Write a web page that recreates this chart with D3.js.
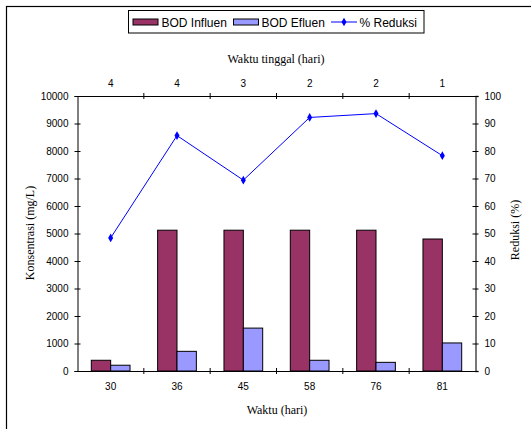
<!DOCTYPE html>
<html>
<head>
<meta charset="utf-8">
<script src="https://cdn.jsdelivr.net/npm/d3@7"></script>
<style>
  html, body { margin: 0; padding: 0; background: #fff; }
  svg { display: block; }
</style>
</head>
<body>
<svg id="chart" width="531" height="429"></svg>
<script>
// ---- data ----
const waktu = ["30", "36", "45", "58", "76", "81"];
const waktuTinggal = ["4", "4", "3", "2", "2", "1"];
const bodInfluen = [390, 5120, 5120, 5120, 5120, 4800];
const bodEfluen = [210, 715, 1560, 390, 315, 1020];
const reduksi = [48.4, 85.6, 69.4, 92.2, 93.6, 78.3];
const leftTicks = [0, 1000, 2000, 3000, 4000, 5000, 6000, 7000, 8000, 9000, 10000];
const rightTicks = [0, 10, 20, 30, 40, 50, 60, 70, 80, 90, 100];

const svg = d3.select("#chart");
const L = 77.5, R = 475.5, T = 96, B = 371;
const sans = "Liberation Sans, Arial, sans-serif";
const serif = "Liberation Serif, Times New Roman, serif";

// outer border (extends beyond the view on right/bottom)
svg.append("rect").attr("x", 6.5).attr("y", 6.5).attr("width", 700).attr("height", 700)
  .attr("fill", "none").attr("stroke", "#000").attr("stroke-width", 1.2);

const x = d3.scaleBand().domain(waktu).range([L, R]).padding(0);
const x1 = d3.scaleBand().domain(["inf", "ef"]).range([0, x.bandwidth()]).paddingInner(0).paddingOuter(0.713);
const yL = d3.scaleLinear().domain([0, 10000]).range([B, T]);
const yR = d3.scaleLinear().domain([0, 100]).range([B, T]);

// bars
const g = svg.append("g");
waktu.forEach((w, i) => {
  g.append("rect").attr("x", x(w) + x1("inf")).attr("y", yL(bodInfluen[i]))
    .attr("width", x1.bandwidth()).attr("height", B - yL(bodInfluen[i]))
    .attr("fill", "#993366").attr("stroke", "#000").attr("stroke-width", 1);
  g.append("rect").attr("x", x(w) + x1("ef")).attr("y", yL(bodEfluen[i]))
    .attr("width", x1.bandwidth()).attr("height", B - yL(bodEfluen[i]))
    .attr("fill", "#9999FF").attr("stroke", "#000").attr("stroke-width", 1);
});

// axes
function crossTicks(sel, orient) {
  sel.selectAll(".tick line").each(function () {
    const l = d3.select(this);
    if (orient === "v") l.attr("x1", -3).attr("x2", 3);
    else l.attr("y1", -3).attr("y2", 3);
  });
}
const axL = svg.append("g").attr("transform", `translate(${L},0)`)
  .call(d3.axisLeft(yL).tickValues(leftTicks).tickSize(3).tickPadding(6).tickFormat(d3.format("d")));
crossTicks(axL, "v");
const axR = svg.append("g").attr("transform", `translate(${R},0)`)
  .call(d3.axisRight(yR).tickValues(rightTicks).tickSize(3).tickPadding(6).tickFormat(d3.format("d")));
crossTicks(axR, "v");
axR.select(".domain").attr("stroke", "#555").attr("stroke-width", 1.6);

// bottom axis: labels centered, ticks at band boundaries
const axB = svg.append("g").attr("transform", `translate(0,${B})`)
  .call(d3.axisBottom(x).tickSize(0).tickPadding(12).tickSizeOuter(0));
const axT = svg.append("g").attr("transform", `translate(0,${T})`)
  .call(d3.axisTop(x).tickSize(0).tickPadding(9).tickSizeOuter(0).tickFormat((d, i) => waktuTinggal[i]));
d3.range(1, waktu.length).forEach(i => {
  const bx = L + i * x.step();
  svg.append("line").attr("x1", bx).attr("x2", bx).attr("y1", B - 3).attr("y2", B + 3).attr("stroke", "#000");
  svg.append("line").attr("x1", bx).attr("x2", bx).attr("y1", T - 3).attr("y2", T + 3).attr("stroke", "#000");
});
[axL, axR, axB, axT].forEach(a => {
  a.selectAll("text").attr("font-family", sans).attr("font-size", 10).attr("fill", "#000");
  a.selectAll("line").attr("stroke", "#000");
});
axL.select(".domain").attr("stroke", "#000");
axB.select(".domain").attr("stroke", "#000");
axT.select(".domain").attr("stroke", "#000");

// line series
const line = d3.line().x((d, i) => x(waktu[i]) + x.bandwidth() / 2).y(d => yR(d));
svg.append("path").datum(reduksi).attr("d", line).attr("fill", "none")
  .attr("stroke", "#0000FF").attr("stroke-width", 1);
const diamond = d3.symbol().type(d3.symbolDiamond).size(22);
svg.selectAll(".pt").data(reduksi).enter().append("path")
  .attr("d", diamond)
  .attr("transform", (d, i) => `translate(${x(waktu[i]) + x.bandwidth() / 2},${yR(d)})`)
  .attr("fill", "#0000FF");

// axis titles
svg.append("text").attr("x", 276).attr("y", 63).attr("text-anchor", "middle")
  .attr("font-family", serif).attr("font-size", 12).text("Waktu tinggal (hari)");
svg.append("text").attr("x", 277).attr("y", 414).attr("text-anchor", "middle")
  .attr("font-family", serif).attr("font-size", 12).text("Waktu (hari)");
svg.append("text").attr("transform", "translate(34,233) rotate(-90)").attr("text-anchor", "middle")
  .attr("font-family", serif).attr("font-size", 12).text("Konsentrasi (mg/L)");
svg.append("text").attr("transform", "translate(519,230) rotate(-90)").attr("text-anchor", "middle")
  .attr("font-family", serif).attr("font-size", 12).text("Reduksi (%)");

// legend
const lg = svg.append("g");
lg.append("rect").attr("x", 128.5).attr("y", 10.5).attr("width", 295.5).attr("height", 22.5)
  .attr("fill", "#fff").attr("stroke", "#000").attr("stroke-width", 1);
lg.append("rect").attr("x", 133).attr("y", 19).attr("width", 25).attr("height", 6)
  .attr("fill", "#993366").attr("stroke", "#000");
lg.append("text").attr("x", 161.5).attr("y", 26.5).attr("font-family", sans).attr("font-size", 12).text("BOD Influen");
lg.append("rect").attr("x", 233.5).attr("y", 19).attr("width", 25).attr("height", 6)
  .attr("fill", "#9999FF").attr("stroke", "#000");
lg.append("text").attr("x", 261.5).attr("y", 26.5).attr("font-family", sans).attr("font-size", 12).text("BOD Efluen");
lg.append("line").attr("x1", 331).attr("x2", 357).attr("y1", 22).attr("y2", 22).attr("stroke", "#0000FF");
lg.append("path").attr("d", diamond).attr("transform", "translate(344,22)").attr("fill", "#0000FF");
lg.append("text").attr("x", 359.5).attr("y", 26.5).attr("font-family", sans).attr("font-size", 12).text("% Reduksi");
</script>
</body>
</html>
